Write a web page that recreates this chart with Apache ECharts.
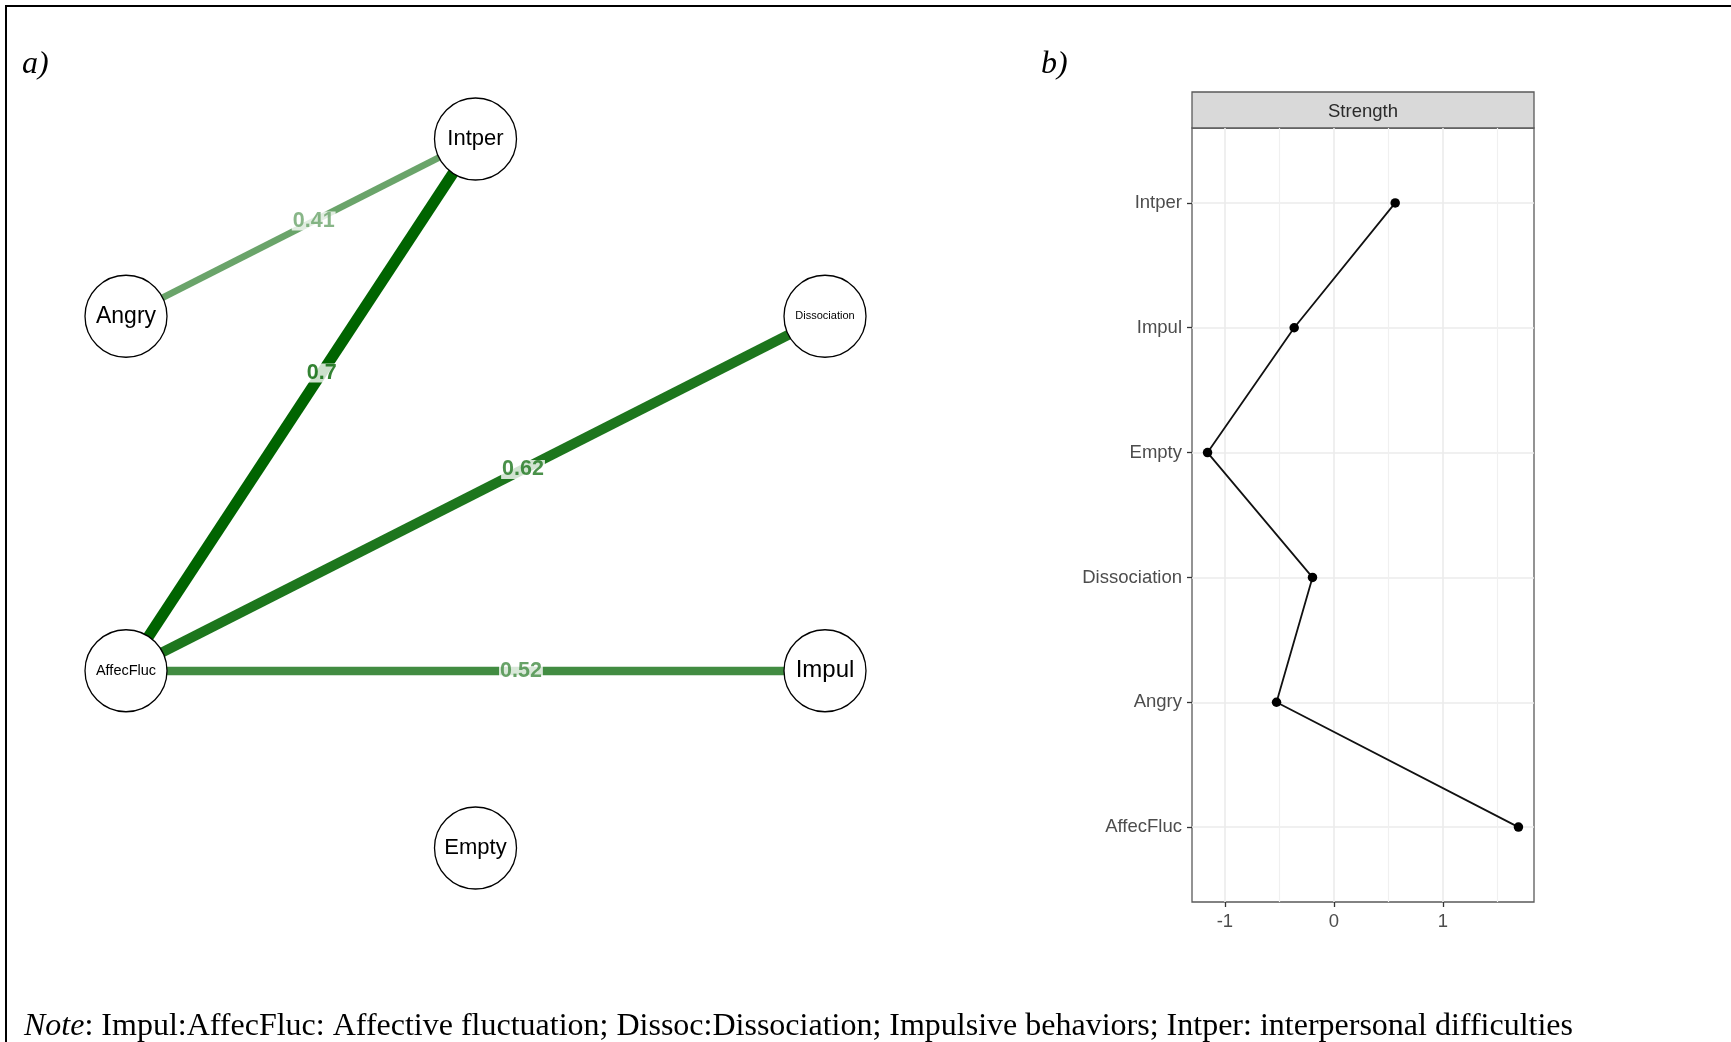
<!DOCTYPE html>
<html><head><meta charset="utf-8">
<script src="https://cdn.jsdelivr.net/npm/echarts@6/dist/echarts.min.js"></script>
<style>html,body{margin:0;padding:0;background:#fff}#c{width:1731px;height:1042px}</style>
</head><body><div id="c"></div>
<script>
// ---- Panel a: network ----
const nodeNames = ['Intper', 'Dissociation', 'Impul', 'Empty', 'AffecFluc', 'Angry'];
const nodeX = [0, 1, 1, 0, -1, -1];
const nodeY = [1, 0.5, -0.5, -1, -0.5, 0.5];
const edgeFrom = ['Intper', 'Intper', 'Dissociation', 'Impul'];
const edgeTo = ['AffecFluc', 'Angry', 'AffecFluc', 'AffecFluc'];
const edgeWeight = [0.70, 0.41, 0.62, 0.52];
const edgeLabels = ['0.7', '0.41', '0.62', '0.52'];

// ---- Panel b: strength centrality ----
const strengthCategories = ['AffecFluc', 'Angry', 'Dissociation', 'Empty', 'Impul', 'Intper'];
const strengthValues = [1.694, -0.526, -0.196, -1.159, -0.364, 0.563];
const xTickValues = [-1, 0, 1];
const xMinorValues = [-0.5, 0.5, 1.5];
const stripTitle = 'Strength';

// ---- styles ----
const nodeFontSize = {Intper: 22, Dissociation: 11, Impul: 24, Empty: 22, AffecFluc: 14.5, Angry: 23};
const labelFrac = [0.44, 0.463, 0.432, 0.435];
const maxW = Math.max.apply(null, edgeWeight);
function edgeColor(w) {
  const a = w / maxW;
  const r = Math.round(255 * (1 - a));
  const g = Math.round(100 * a + 255 * (1 - a));
  return 'rgb(' + r + ',' + g + ',' + r + ')';
}
const SANS = 'Liberation Sans, Arial, Helvetica, sans-serif';
const SERIF = 'Liberation Serif, Times New Roman, serif';

const idx = {};
nodeNames.forEach((n, i) => idx[n] = i);

const graphNodes = nodeNames.map((n, i) => ({
  name: n,
  value: [nodeX[i], nodeY[i]],
  label: {fontSize: nodeFontSize[n]}
}));
const graphLinks = edgeFrom.map((f, i) => ({
  source: f, target: edgeTo[i],
  lineStyle: {width: edgeWeight[i] * 16, color: edgeColor(edgeWeight[i]), opacity: 1, curveness: 0}
}));
const edgeLabelData = edgeFrom.map((f, i) => {
  const a = idx[f], b = idx[edgeTo[i]], t = labelFrac[i];
  return {
    value: [nodeX[a] + t * (nodeX[b] - nodeX[a]), nodeY[a] + t * (nodeY[b] - nodeY[a])],
    label: {color: edgeColor(edgeWeight[i]), formatter: edgeLabels[i]}
  };
});

// ggplot-like 5% expansion of the continuous axis
const sMin = Math.min.apply(null, strengthValues), sMax = Math.max.apply(null, strengthValues);
const xMin = sMin - 0.05 * (sMax - sMin), xMax = sMax + 0.05 * (sMax - sMin);

const chart = echarts.init(document.getElementById('c'), null, {renderer: 'canvas'});
chart.setOption({
  animation: false,
  backgroundColor: '#fff',
  grid: [
    {left: 126, top: 139, width: 699, height: 709, show: false, containLabel: false, outerBoundsMode: 'none'},
    {left: 1192, top: 128, width: 342, height: 774, show: true, borderColor: '#5a5a5a', borderWidth: 1.3,
     backgroundColor: 'transparent', containLabel: false, outerBoundsMode: 'none'}
  ],
  xAxis: [
    {gridIndex: 0, type: 'value', min: -1, max: 1, show: false},
    {gridIndex: 1, type: 'value', min: xMin, max: xMax, position: 'bottom',
     axisLine: {show: false, onZero: false},
     axisTick: {show: true, customValues: xTickValues, length: 5, lineStyle: {color: '#333', width: 1.3}},
     axisLabel: {customValues: xTickValues, color: '#4d4d4d', fontSize: 18.5, fontFamily: SANS, margin: 10},
     splitLine: {show: true, lineStyle: {color: '#ebebeb', width: 1.6}}
    },
    {gridIndex: 1, type: 'value', min: xMin, max: xMax, position: 'bottom',
     axisLine: {show: false, onZero: false},
     axisTick: {show: false, customValues: xMinorValues},
     axisLabel: {show: false, customValues: xMinorValues},
     splitLine: {show: true, lineStyle: {color: '#f0f0f0', width: 1.2}}
    }
  ],
  yAxis: [
    {gridIndex: 0, type: 'value', min: -1, max: 1, show: false},
    {gridIndex: 1, type: 'value', min: -0.6, max: 5.6, position: 'left',
     axisLine: {show: false, onZero: false},
     axisTick: {show: true, customValues: [0, 1, 2, 3, 4, 5], length: 5, lineStyle: {color: '#333', width: 1.3}},
     axisLabel: {customValues: [0, 1, 2, 3, 4, 5], color: '#4d4d4d', fontSize: 18.5, fontFamily: SANS, margin: 10,
                 padding: [3, 0, 0, 0],
                 formatter: v => strengthCategories[Math.round(v)] || ''},
     splitLine: {show: true, lineStyle: {color: '#ebebeb', width: 1.6}}
    }
  ],
  series: [
    {
      type: 'graph', coordinateSystem: 'cartesian2d', xAxisIndex: 0, yAxisIndex: 0,
      layout: 'none', roam: false, z: 2,
      symbol: 'circle', symbolSize: 82,
      itemStyle: {color: '#fff', borderColor: '#000', borderWidth: 1.3},
      label: {show: true, position: 'inside', color: '#000', fontFamily: SANS},
      emphasis: {disabled: true},
      lineStyle: {opacity: 1},
      data: graphNodes,
      links: graphLinks
    },
    {
      type: 'scatter', xAxisIndex: 0, yAxisIndex: 0, z: 5,
      symbolSize: 1, itemStyle: {color: 'rgba(0,0,0,0)'},
      label: {show: true, position: 'inside', fontSize: 21.5, fontWeight: 'bold', fontFamily: SANS,
              backgroundColor: '#fff', padding: [0, 1], lineHeight: 19, textBorderWidth: 0},
      emphasis: {disabled: true},
      silent: true,
      data: edgeLabelData
    },
    {
      type: 'line', xAxisIndex: 1, yAxisIndex: 1, z: 3,
      data: strengthValues.map((v, i) => [v, i]),
      lineStyle: {color: '#111', width: 1.8},
      symbol: 'circle', symbolSize: 9.5, showSymbol: true, showAllSymbol: true,
      itemStyle: {color: '#000'},
      emphasis: {disabled: true}
    }
  ],
  graphic: [
    {type: 'polyline', silent: true, shape: {points: [[6, 1042], [6, 6], [1731, 6]]},
     style: {stroke: '#000', lineWidth: 2, fill: null}},
    {type: 'text', x: 22, y: 65, style: {text: 'a)', font: 'italic 32px ' + SERIF, fill: '#000', verticalAlign: 'middle'}},
    {type: 'text', x: 1041, y: 65, style: {text: 'b)', font: 'italic 32px ' + SERIF, fill: '#000', verticalAlign: 'middle'}},
    {type: 'rect', shape: {x: 1192, y: 92, width: 342, height: 36},
     style: {fill: '#d9d9d9', stroke: '#5a5a5a', lineWidth: 1.3}},
    {type: 'text', x: 1363, y: 112, style: {text: stripTitle, font: '18.5px ' + SANS, fill: '#2a2a2a', align: 'center', verticalAlign: 'middle'}},
    {type: 'text', x: 24, y: 1027,
     style: {
       text: '{i|Note}: Impul:AffecFluc: Affective fluctuation; Dissoc:Dissociation; Impulsive behaviors; Intper: interpersonal difficulties',
       font: '32px ' + SERIF, fill: '#000', verticalAlign: 'middle',
       rich: {i: {fontStyle: 'italic', fontFamily: SERIF, fontSize: 32, fill: '#000'}}
     }}
  ]
});
</script></body></html>
